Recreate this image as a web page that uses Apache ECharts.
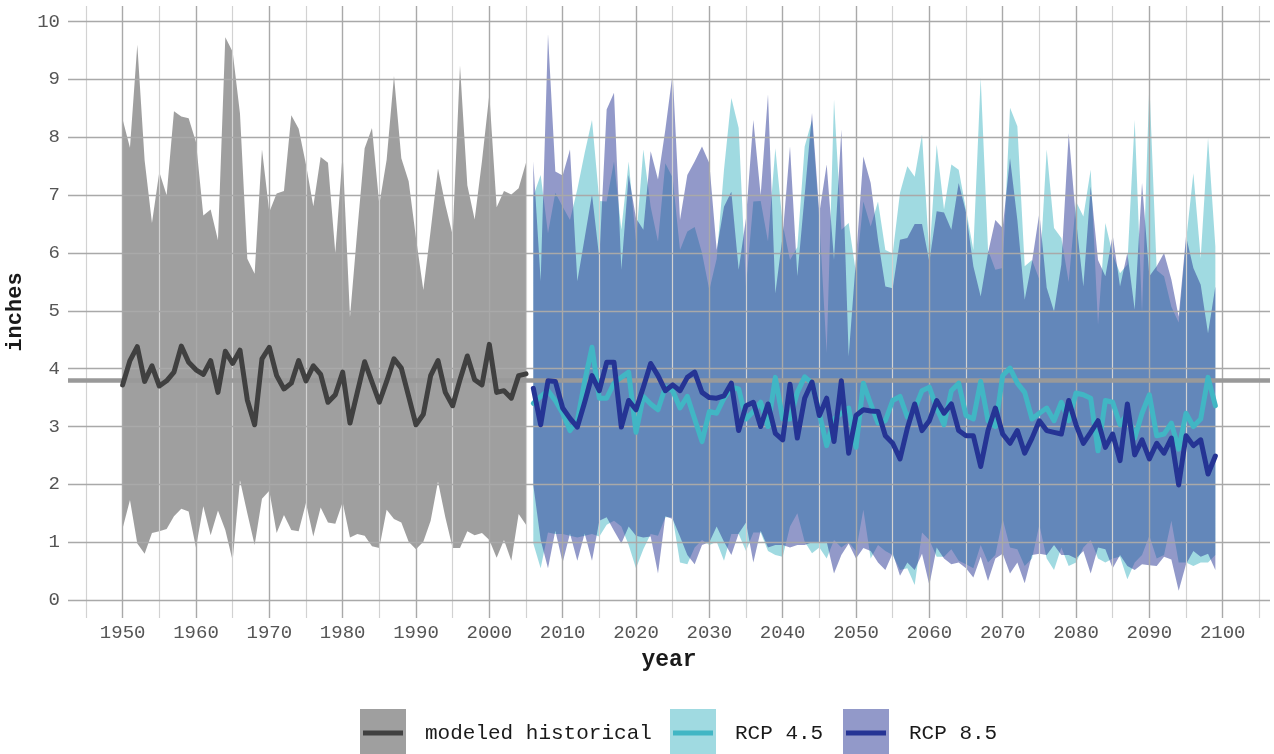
<!DOCTYPE html>
<html>
<head>
<meta charset="utf-8">
<script src="https://cdn.jsdelivr.net/npm/echarts@6/dist/echarts.min.js"></script>
<style>
  html, body { margin: 0; padding: 0; background: #ffffff; }
  #chart { width: 1274px; height: 754px; }
</style>
</head>
<body>
<div id="chart"></div>
<script>
// Monthly-maximum precipitation (inches): modeled historical 1950-2005,
// projections 2006-2099 under RCP 4.5 and RCP 8.5 (ensemble min / mean / max).
const histStart = 1950;
const futureStart = 2006;

const histMax = [
  8.31, 7.82, 9.60, 7.60, 6.52, 7.40, 7.00, 8.45, 8.36, 8.33,
  7.92, 6.65, 6.75, 6.22, 9.73, 9.48, 8.41, 5.90, 5.64, 7.79,
  6.71, 7.03, 7.07, 8.38, 8.15, 7.53, 6.81, 7.66, 7.56, 6.00,
  7.72, 4.89, 6.39, 7.81, 8.16, 6.84, 7.61, 9.06, 7.64, 7.24,
  6.26, 5.36, 6.39, 7.46, 6.84, 6.31, 9.24, 7.17, 6.58, 7.59,
  8.74, 6.79, 7.07, 7.01, 7.12, 7.56
];
const histMean = [
  3.72, 4.14, 4.38, 3.78, 4.05, 3.70, 3.79, 3.94, 4.39, 4.11,
  3.98, 3.90, 4.14, 3.59, 4.30, 4.09, 4.32, 3.46, 3.03, 4.17,
  4.37, 3.88, 3.65, 3.75, 4.14, 3.79, 4.05, 3.90, 3.42, 3.55,
  3.94, 3.06, 3.59, 4.12, 3.77, 3.42, 3.78, 4.17, 4.01, 3.52,
  3.03, 3.21, 3.88, 4.14, 3.59, 3.36, 3.81, 4.22, 3.81, 3.72,
  4.42, 3.59, 3.62, 3.49, 3.88, 3.91
];
const histMin = [
  1.24, 1.73, 0.98, 0.80, 1.16, 1.19, 1.23, 1.45, 1.58, 1.53,
  0.91, 1.62, 1.12, 1.55, 1.21, 0.68, 2.07, 1.50, 0.95, 1.75,
  1.89, 1.16, 1.47, 1.21, 1.19, 1.68, 1.10, 1.60, 1.34, 1.32,
  1.69, 1.08, 1.14, 1.11, 0.93, 0.90, 1.56, 1.40, 1.34, 1.01,
  0.88, 1.01, 1.37, 2.05, 1.43, 0.90, 0.90, 1.19, 1.12, 1.16,
  1.04, 0.73, 1.04, 0.68, 1.49, 1.30
];

const rcp45Max = [
  6.98, 7.35, 6.34, 7.04, 6.80, 6.57, 7.10, 7.73, 8.30, 6.90,
  6.89, 7.58, 6.40, 7.58, 6.20, 7.79, 6.80, 6.20, 7.55, 7.30,
  6.05, 6.37, 6.45, 6.00, 5.36, 5.90, 7.44, 8.68, 8.16, 5.42,
  6.89, 6.90, 6.20, 7.81, 6.50, 5.88, 6.10, 7.84, 8.30, 6.57,
  4.27, 8.65, 6.40, 6.52, 5.65, 6.89, 6.46, 6.89, 6.05, 5.99,
  7.04, 7.50, 7.32, 8.05, 5.95, 7.87, 6.75, 7.53, 7.44, 6.75,
  6.05, 9.03, 6.05, 5.71, 5.74, 8.51, 8.19, 5.77, 5.88, 5.54,
  7.79, 6.43, 6.26, 5.50, 6.89, 6.63, 7.44, 4.76, 6.52, 5.97,
  5.65, 5.80, 8.30, 4.96, 8.94, 5.70, 5.60, 5.07, 4.80, 6.20,
  7.38, 5.91, 7.99, 6.11
];
const rcp45Mean = [
  3.40, 3.52, 3.62, 3.45, 3.23, 2.93, 3.10, 3.78, 4.37, 3.49,
  3.49, 3.75, 3.85, 3.94, 2.90, 3.52, 3.39, 3.29, 3.68, 3.62,
  3.32, 3.52, 3.13, 2.74, 3.26, 3.23, 3.49, 3.68, 3.65, 3.13,
  3.26, 3.42, 3.00, 3.85, 3.13, 3.13, 3.59, 3.86, 3.75, 3.23,
  2.67, 3.13, 3.23, 3.32, 2.64, 3.75, 3.39, 3.06, 3.10, 3.45,
  3.52, 3.16, 3.30, 3.62, 3.68, 3.32, 3.03, 3.62, 3.75, 3.19,
  3.13, 3.78, 3.10, 3.00, 3.88, 4.01, 3.75, 3.59, 3.13, 3.23,
  3.32, 3.10, 3.42, 3.10, 3.58, 3.55, 3.49, 2.58, 3.45, 3.42,
  3.03, 3.23, 2.80, 3.23, 3.55, 2.84, 2.87, 3.06, 2.61, 3.23,
  3.00, 3.13, 3.85, 3.36
];
const rcp45Min = [
  0.98, 0.55, 1.17, 1.14, 1.14, 1.11, 1.08, 1.11, 1.14, 1.10,
  1.30, 1.37, 1.27, 0.95, 0.55, 0.88, 1.14, 1.11, 1.43, 1.43,
  0.65, 0.62, 0.91, 1.04, 0.95, 1.01, 0.68, 1.14, 1.14, 0.85,
  1.17, 1.17, 0.85, 0.78, 0.75, 1.27, 1.50, 1.01, 0.81, 0.91,
  0.72, 1.04, 0.91, 1.00, 0.85, 1.56, 0.72, 0.95, 0.85, 0.78,
  0.52, 0.55, 0.26, 1.17, 1.04, 0.75, 0.75, 0.88, 0.68, 0.62,
  0.55, 0.95, 0.65, 0.78, 1.40, 0.91, 0.88, 0.59, 0.72, 1.30,
  0.72, 0.52, 0.91, 0.59, 0.65, 0.91, 1.04, 0.72, 0.65, 0.72,
  0.75, 0.36, 0.65, 0.78, 1.11, 0.72, 0.78, 1.37, 0.65, 0.65,
  0.59, 0.65, 0.65, 0.78
];

const rcp85Max = [
  7.58, 5.51, 9.78, 7.41, 7.34, 7.79, 5.51, 6.26, 7.01, 5.91,
  8.48, 8.77, 5.71, 7.35, 6.60, 6.40, 7.76, 7.27, 8.13, 9.11,
  6.57, 7.35, 7.58, 7.84, 7.55, 6.05, 6.80, 7.06, 5.71, 6.60,
  8.30, 7.00, 8.74, 5.30, 6.30, 7.84, 5.60, 7.00, 8.42, 6.69,
  7.53, 5.88, 8.13, 4.21, 5.90, 7.67, 7.21, 6.23, 5.42, 5.39,
  6.23, 6.26, 6.50, 6.50, 5.85, 6.72, 6.70, 6.40, 7.21, 6.70,
  5.77, 5.25, 6.00, 6.57, 6.43, 7.64, 6.57, 5.19, 5.85, 6.69,
  5.40, 4.99, 5.80, 8.07, 6.57, 5.42, 7.15, 5.88, 5.60, 6.31,
  5.42, 6.00, 5.02, 7.21, 5.60, 5.77, 6.00, 5.54, 4.90, 6.29,
  5.74, 5.45, 4.61, 5.42
];
const rcp85Mean = [
  3.66, 3.03, 3.79, 3.78, 3.32, 3.14, 2.99, 3.42, 3.88, 3.62,
  4.11, 4.11, 2.99, 3.45, 3.29, 3.68, 4.09, 3.88, 3.62, 3.72,
  3.62, 3.85, 3.94, 3.59, 3.50, 3.49, 3.53, 3.75, 2.93, 3.36,
  3.42, 3.00, 3.39, 2.88, 2.77, 3.73, 2.80, 3.49, 3.77, 3.19,
  3.49, 2.74, 3.79, 2.54, 3.19, 3.29, 3.27, 3.26, 2.84, 2.71,
  2.44, 2.97, 3.39, 2.93, 3.10, 3.45, 3.23, 3.39, 2.93, 2.84,
  2.84, 2.31, 2.93, 3.32, 2.87, 2.71, 2.93, 2.54, 2.80, 3.10,
  2.93, 2.90, 2.87, 3.45, 3.03, 2.71, 2.90, 3.10, 2.64, 2.87,
  2.41, 3.39, 2.51, 2.77, 2.44, 2.71, 2.54, 2.80, 1.99, 2.84,
  2.67, 2.77, 2.18, 2.49
];
const rcp85Min = [
  1.99, 1.04, 0.55, 1.20, 0.65, 1.15, 0.68, 1.15, 0.68, 1.37,
  1.43, 1.20, 0.98, 1.27, 1.11, 1.08, 1.10, 0.46, 1.45, 1.40,
  1.10, 0.78, 0.62, 0.95, 1.00, 1.27, 1.01, 0.78, 1.15, 1.34,
  0.65, 1.20, 0.91, 0.95, 0.95, 0.91, 0.95, 0.95, 1.00, 1.00,
  1.01, 0.46, 0.78, 0.98, 0.72, 0.90, 0.85, 0.65, 0.52, 0.81,
  0.42, 0.65, 0.52, 0.80, 0.26, 0.91, 0.72, 0.62, 0.65, 0.55,
  0.39, 0.75, 0.33, 0.72, 0.80, 0.46, 0.65, 0.29, 0.78, 0.80,
  0.78, 0.95, 0.78, 0.78, 0.72, 0.85, 0.46, 0.91, 0.88, 0.55,
  0.78, 0.59, 0.52, 0.62, 0.60, 0.59, 0.75, 0.70, 0.16, 0.62,
  0.85, 0.75, 0.80, 0.52
];

// Long-term historical average drawn as a reference line
const baseline = 3.8;

const xTickLabels = [1950, 1960, 1970, 1980, 1990, 2000, 2010, 2020, 2030, 2040, 2050, 2060, 2070, 2080, 2090, 2100];
const xMinorBreaks = [1945, 1955, 1965, 1975, 1985, 1995, 2005, 2015, 2025, 2035, 2045, 2055, 2065, 2075, 2085, 2095, 2105];
const yTickLabels = [0, 1, 2, 3, 4, 5, 6, 7, 8, 9, 10];

const legendNames = ['modeled historical', 'RCP 4.5', 'RCP 8.5'];

const COL_HIST = '#404040';
const COL_45 = '#41b6c4';
const COL_85 = '#253494';
const FILL_HIST = 'rgba(64,64,64,0.5)';
const FILL_45 = 'rgba(65,182,196,0.5)';
const FILL_85 = 'rgba(37,52,148,0.5)';
const FONT = '"Liberation Mono", "DejaVu Sans Mono", monospace';

function pairs(start, arr) {
  return arr.map((v, i) => [start + i, v]);
}

// Ribbon between the yearly minimum and maximum, drawn as one polygon
function bandSeries(name, start, lo, hi, fill, z) {
  const rows = lo.map((v, i) => [start + i, v, hi[i]]);
  return {
    name: name, type: 'custom', silent: true, z: z,
    data: rows,
    encode: { x: 0, y: [1, 2] },
    renderItem: function (params, api) {
      if (params.dataIndex !== 0) return null;
      const upper = rows.map(r => api.coord([r[0], r[2]]));
      const lower = rows.map(r => api.coord([r[0], r[1]])).reverse();
      return {
        type: 'polygon',
        shape: { points: upper.concat(lower) },
        style: { fill: fill }
      };
    }
  };
}

function meanSeries(name, start, arr, color, z) {
  return {
    name: name, type: 'line', data: pairs(start, arr),
    showSymbol: false, symbol: 'none', silent: true,
    lineStyle: { color: color, width: 5, join: 'round', cap: 'round' },
    z: z
  };
}

const gridMarks = []
  .concat(xMinorBreaks.map(v => ({ xAxis: v, lineStyle: { color: '#d2d2d2', width: 1.2, type: 'solid' } })))
  .concat(xTickLabels.map(v => ({ xAxis: v, lineStyle: { color: '#a9a9a9', width: 1.4, type: 'solid' } })))
  .concat(yTickLabels.map(v => ({ yAxis: v, lineStyle: { color: '#a9a9a9', width: 1.4, type: 'solid' } })))
  .concat([{ yAxis: baseline, lineStyle: { color: '#999999', width: 4.5, type: 'solid' } }]);

const chart = echarts.init(document.getElementById('chart'), null, { renderer: 'canvas' });

const option = {
  animation: false,
  backgroundColor: '#ffffff',
  grid: { left: 68, right: 4, top: 6, bottom: 136, containLabel: false, outerBoundsMode: 'none' },
  xAxis: {
    type: 'value', min: 1942.55, max: 2106.45,
    name: 'year', nameLocation: 'middle', nameGap: 31,
    nameTextStyle: { fontFamily: FONT, fontWeight: 'bold', fontSize: 23, color: '#1a1a1a' },
    axisLine: { show: false }, axisTick: { show: false }, splitLine: { show: false },
    axisLabel: {
      customValues: xTickLabels, fontFamily: FONT, fontSize: 19, color: '#555555', margin: 5,
      formatter: v => String(v)
    }
  },
  yAxis: {
    type: 'value', min: -0.31, max: 10.27,
    name: 'inches', nameLocation: 'middle', nameGap: 36, nameRotate: 90,
    nameTextStyle: { fontFamily: FONT, fontWeight: 'bold', fontSize: 22, color: '#1a1a1a' },
    axisLine: { show: false }, axisTick: { show: false }, splitLine: { show: false },
    axisLabel: {
      customValues: yTickLabels, fontFamily: FONT, fontSize: 19, color: '#555555', margin: 8,
      formatter: v => String(v)
    }
  },
  series: [
    {
      name: 'grid', type: 'line', data: [[histStart, baseline]], silent: true,
      showSymbol: false, symbol: 'none', lineStyle: { opacity: 0 }, z: 1,
      markLine: { silent: true, symbol: ['none', 'none'], label: { show: false }, animation: false, data: gridMarks }
    },
    bandSeries('hist-range', histStart, histMin, histMax, FILL_HIST, 2),
    bandSeries('rcp45-range', futureStart, rcp45Min, rcp45Max, FILL_45, 3),
    bandSeries('rcp85-range', futureStart, rcp85Min, rcp85Max, FILL_85, 4),
    meanSeries(legendNames[0], histStart, histMean, COL_HIST, 6),
    meanSeries(legendNames[1], futureStart, rcp45Mean, COL_45, 7),
    meanSeries(legendNames[2], futureStart, rcp85Mean, COL_85, 8)
  ],
  graphic: [
    // legend keys: translucent band swatch with the mean line across it
    { type: 'rect', shape: { x: 360, y: 709, width: 46, height: 46 }, style: { fill: FILL_HIST }, silent: true },
    { type: 'line', shape: { x1: 363, y1: 733, x2: 403, y2: 733 }, style: { stroke: COL_HIST, lineWidth: 5 }, silent: true },
    { type: 'text', x: 425, y: 733, style: { text: legendNames[0], font: '21px ' + FONT, fill: '#1a1a1a', verticalAlign: 'middle' }, silent: true },

    { type: 'rect', shape: { x: 670, y: 709, width: 46, height: 46 }, style: { fill: FILL_45 }, silent: true },
    { type: 'line', shape: { x1: 673, y1: 733, x2: 713, y2: 733 }, style: { stroke: COL_45, lineWidth: 5 }, silent: true },
    { type: 'text', x: 735, y: 733, style: { text: legendNames[1], font: '21px ' + FONT, fill: '#1a1a1a', verticalAlign: 'middle' }, silent: true },

    { type: 'rect', shape: { x: 843, y: 709, width: 46, height: 46 }, style: { fill: FILL_85 }, silent: true },
    { type: 'line', shape: { x1: 846, y1: 733, x2: 886, y2: 733 }, style: { stroke: COL_85, lineWidth: 5 }, silent: true },
    { type: 'text', x: 909, y: 733, style: { text: legendNames[2], font: '21px ' + FONT, fill: '#1a1a1a', verticalAlign: 'middle' }, silent: true }
  ]
};

chart.setOption(option);
</script>
</body>
</html>
